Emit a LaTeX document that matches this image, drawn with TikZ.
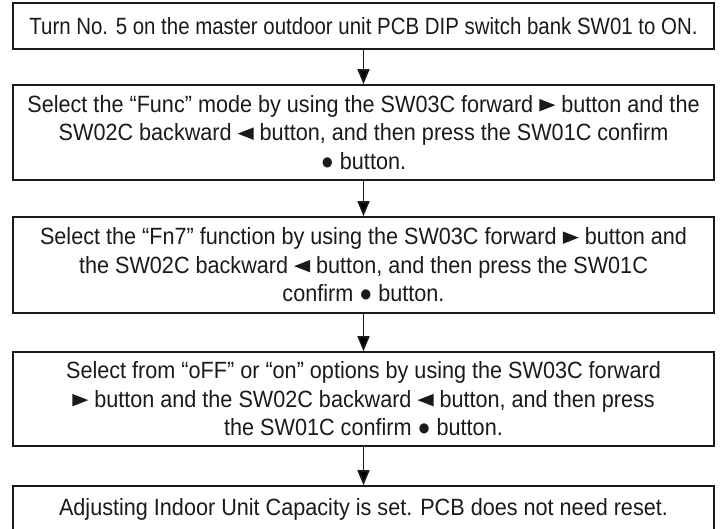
\documentclass[tikz,border=0pt]{standalone}
\usepackage{fontspec}
\setmainfont{Liberation Sans}[FakeStretch=0.92]
\newfontfamily\narrowone{Liberation Sans}[FakeStretch=0.87]
\usetikzlibrary{arrows.meta}
\definecolor{ink}{HTML}{1A1A1A}
\newcommand{\rtri}{\tikz[baseline=0pt]\fill[ink] (0pt,1pt) -- (0pt,13.5pt) -- (16pt,7.25pt) -- cycle;}
\newcommand{\ltri}{\tikz[baseline=0pt]\fill[ink] (16pt,1pt) -- (16pt,13.5pt) -- (0pt,7.25pt) -- cycle;}
\tikzset{
  stepbox/.style={draw=ink, line width=1.6pt, minimum width=701pt, inner sep=0pt,
    align=center, text=ink, font=\fontsize{23.5pt}{28.5pt}\selectfont},
  flow/.style={draw=ink, line width=1.6pt, -{Triangle[width=12pt,length=15pt]}}
}
\begin{document}
\begin{tikzpicture}[x=1pt,y=-1pt]
\useasboundingbox (0,0) rectangle (720,529);
\clip (0,0) rectangle (720,529);
\node[stepbox, minimum height=46pt] (b1) at (363.5,26) {\narrowone Turn No. 5 on the master outdoor unit PCB DIP switch bank SW01 to ON.};
\node[stepbox, minimum height=95pt] (b2) at (363.5,132.5) {Select the “Func” mode by using the SW03C forward \rtri{} button and the\\SW02C backward \ltri{} button, and then press the SW01C confirm\\● button.};
\node[stepbox, minimum height=96pt] (b3) at (363.5,265) {Select the “Fn7” function by using the SW03C forward \rtri{} button and\\the SW02C backward \ltri{} button, and then press the SW01C\\confirm ● button.};
\node[stepbox, minimum height=94pt] (b4) at (363.5,399) {Select from “oFF” or “on” options by using the SW03C forward\\\rtri{} button and the SW02C backward \ltri{} button, and then press\\the SW01C confirm ● button.};
\node[stepbox, minimum height=46pt] (b5) at (363.5,509) {Adjusting Indoor Unit Capacity is set. PCB does not need reset.};
\draw[flow] (b1) -- (b2);
\draw[flow] (b2) -- (b3);
\draw[flow] (b3) -- (b4);
\draw[flow] (b4) -- (b5);
\end{tikzpicture}
\end{document}
